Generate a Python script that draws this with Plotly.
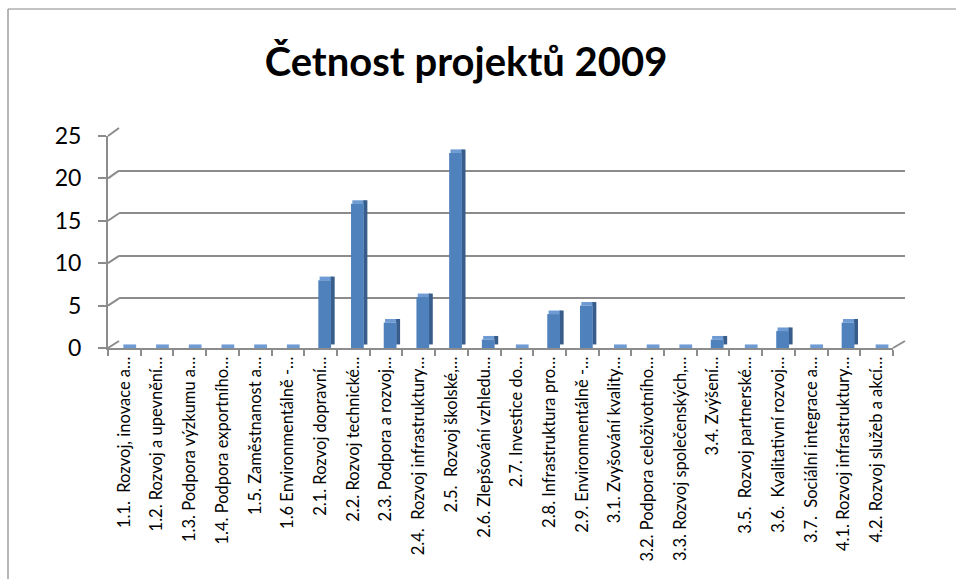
import plotly.graph_objects as go

categories = [
    "1.1.  Rozvoj, inovace a…", "1.2. Rozvoj a upevnění…", "1.3. Podpora výzkumu a…",
    "1.4. Podpora exportního…", "1.5. Zaměstnanost a…", "1.6 Environmentálně -…",
    "2.1. Rozvoj dopravní…", "2.2. Rozvoj technické…", "2.3. Podpora a rozvoj…",
    "2.4.  Rozvoj infrastruktury…", "2.5.  Rozvoj školské,…", "2.6. Zlepšování vzhledu…",
    "2.7. Investice do…", "2.8. Infrastruktura pro…", "2.9. Environmentálně -…",
    "3.1. Zvyšování kvality…", "3.2. Podpora celoživotního…", "3.3. Rozvoj společenských,…",
    "3.4. Zvýšení…", "3.5.  Rozvoj partnerské…", "3.6.  Kvalitativní rozvoj…",
    "3.7.  Sociální integrace a…", "4.1. Rozvoj infrastruktury…", "4.2. Rozvoj služeb a akcí…",
]
values = [0, 0, 0, 0, 0, 0, 8, 17, 3, 6, 23, 1, 0, 4, 5, 0, 0, 0, 1, 0, 2, 0, 3, 0]
y_ticks = [0, 5, 10, 15, 20, 25]
title_text = "Četnost projektů 2009"

W, H = 956, 579
L, R, T, B = 108, 51, 128, 231
PW, PH = W - L - R, H - T - B

front_x_dom = [0, 785 / PW]
front_y_dom = [0, (348 - 136) / PH]
back_x_dom = [11 / PW, 1]
back_y_dom = [7 / PH, 1]

FONT = "Lato"
GRID = "#8c8c8c"
DEPTH = 0.42

fig = go.Figure()
# anchor trace for the back-wall subplot (invisible)
fig.add_trace(go.Scatter(x=[0], y=[0], xaxis="x", yaxis="y", mode="markers",
                         marker=dict(opacity=0), hoverinfo="skip", showlegend=False))
# top faces
fig.add_trace(go.Bar(x=categories, y=[DEPTH] * len(values), base=values, xaxis="x2", yaxis="y2",
                     width=0.39, offset=-0.03, marker=dict(color="#6e9bd3", line=dict(width=0)),
                     hoverinfo="skip", showlegend=False))
# side faces
fig.add_trace(go.Bar(x=categories, y=values, base=[DEPTH] * len(values), xaxis="x2", yaxis="y2",
                     width=0.12, offset=0.31, marker=dict(color="#385d8a", line=dict(width=0)),
                     hoverinfo="skip", showlegend=False))
# front faces
fig.add_trace(go.Bar(x=categories, y=values, xaxis="x2", yaxis="y2",
                     width=0.39, offset=-0.07, marker=dict(color="#4f81bd", line=dict(width=0)),
                     showlegend=False))

shapes = []
# chart-area frame (top and left edges; right/bottom lie outside the view)
fx0, fy1 = (8 - L) / PW, (348 - 9) / PH
shapes.append(dict(type="line", xref="paper", yref="paper", x0=fx0, x1=(W + 20 - L) / PW, y0=fy1, y1=fy1,
                   line=dict(color="#878787", width=1.2), layer="below"))
shapes.append(dict(type="line", xref="paper", yref="paper", x0=fx0, x1=fx0, y0=fy1, y1=(348 - H - 20) / PH,
                   line=dict(color="#878787", width=1.2), layer="below"))
# left wall diagonals
for v in y_ticks:
    yf = front_y_dom[1] * v / 25
    yb = back_y_dom[0] + (back_y_dom[1] - back_y_dom[0]) * v / 25
    shapes.append(dict(type="line", xref="paper", yref="paper", x0=0, y0=yf, x1=back_x_dom[0], y1=yb,
                       line=dict(color=GRID, width=2)))
# floor right edge
shapes.append(dict(type="line", xref="paper", yref="paper", x0=front_x_dom[1], y0=0, x1=1, y1=back_y_dom[0],
                   line=dict(color=GRID, width=2)))

fig.update_layout(
    width=W, height=H,
    margin=dict(l=L, r=R, t=T, b=B),
    paper_bgcolor="white", plot_bgcolor="rgba(0,0,0,0)",
    barmode="overlay",
    font=dict(family=FONT, color="black"),
    title=dict(text=f"<b>{title_text}</b>", x=466 / W, xanchor="center", y=1 - 62 / H, yanchor="middle",
               xref="container", yref="container", font=dict(family=FONT, size=40, color="black")),
    xaxis=dict(domain=back_x_dom, anchor="y", range=[-0.5, 23.5], showgrid=False, zeroline=False,
               showticklabels=False, showline=False, ticks="", fixedrange=True),
    yaxis=dict(domain=back_y_dom, anchor="x", range=[0, 25], tickvals=y_ticks, showgrid=True,
               gridcolor=GRID, gridwidth=2, showticklabels=False, showline=False, zeroline=False, ticks=""),
    xaxis2=dict(domain=front_x_dom, anchor="y2", type="category", categoryorder="array",
                categoryarray=categories, range=[-0.5, 23.5], tickangle=-90,
                tickfont=dict(family=FONT, size=16.5, color="black"),
                showline=True, linecolor=GRID, linewidth=2, ticks="outside", tickson="boundaries",
                ticklen=6, tickcolor=GRID, tickwidth=1.5, showgrid=False),
    yaxis2=dict(domain=front_y_dom, anchor="x2", range=[0, 25], tickvals=y_ticks,
                tickfont=dict(family=FONT, size=23, color="black"),
                showline=True, linecolor=GRID, linewidth=2, ticks="outside", ticklen=8,
                tickcolor=GRID, tickwidth=1.5, showgrid=False, zeroline=False, ticklabelstandoff=12),
    shapes=shapes,
)

fig.write_html("out.html", config={"displayModeBar": False},
               post_script="document.body.style.margin='0';document.body.style.overflow='hidden';")
